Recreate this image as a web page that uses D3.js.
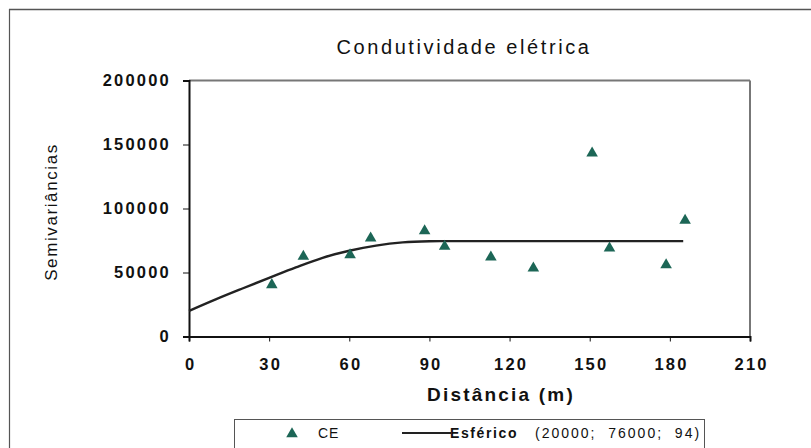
<!DOCTYPE html>
<html>
<head>
<meta charset="utf-8">
<script src="https://cdn.jsdelivr.net/npm/d3@7"></script>
<style>
  body { margin: 0; background: #fff; }
  svg { font-family: "Liberation Sans", Arial, sans-serif; }
</style>
</head>
<body>
<svg id="chart" width="811" height="448"></svg>
<script>
// Experimental semivariances (distance m, value)
const distances = [31, 42.8, 60.3, 68, 88.2, 95.7, 113, 128.9, 150.9, 157.4, 178.6, 185.7];
const semivariances = [40400, 62500, 63800, 76900, 82500, 70300, 62000, 53400, 143300, 69000, 56000, 90600];

// Spherical model line
const modelDist = [0, 10, 20, 30, 40, 50, 60, 70, 80, 90, 94, 185];
const modelVal = [20000, 29000, 37500, 45800, 54000, 61500, 67000, 71000, 73500, 74400, 74500, 74500];

const xTicks = [0, 30, 60, 90, 120, 150, 180, 210];
const yTicks = [0, 50000, 100000, 150000, 200000];

const svg = d3.select("#chart");

// Plot area
const plotLeft = 189, plotRight = 750, plotTop = 80.5, plotBottom = 336.5;

const x = d3.scaleLinear().domain([0, 210]).range([plotLeft, plotRight]);
const y = d3.scaleLinear().domain([0, 200000]).range([plotBottom, plotTop]);

// outer frame (partially visible in the scan)
svg.append("line").attr("x1", 9).attr("x2", 811).attr("y1", 9.5).attr("y2", 9.5)
    .attr("stroke", "#555").attr("stroke-width", 1.5);
svg.append("line").attr("x1", 9.5).attr("x2", 9.5).attr("y1", 9).attr("y2", 448)
    .attr("stroke", "#555").attr("stroke-width", 1.2);

// Title
svg.append("text")
    .attr("x", 464).attr("y", 54)
    .attr("text-anchor", "middle")
    .attr("font-size", 20)
    .attr("letter-spacing", 2.6)
    .attr("fill", "#111")
    .text("Condutividade elétrica");

// plot frame: top/right grey, left/bottom black
svg.append("line").attr("x1", plotLeft).attr("x2", plotRight).attr("y1", plotTop).attr("y2", plotTop)
    .attr("stroke", "#777").attr("stroke-width", 2);
svg.append("line").attr("x1", plotRight).attr("x2", plotRight).attr("y1", plotTop).attr("y2", plotBottom)
    .attr("stroke", "#777").attr("stroke-width", 2);

// Axes
const yAxis = d3.axisLeft(y).tickValues(yTicks).tickSize(6).tickPadding(12)
    .tickFormat(d3.format("d"));
const gy = svg.append("g").attr("transform", `translate(${plotLeft},0)`).call(yAxis);
gy.select(".domain").attr("stroke", "#111").attr("stroke-width", 2);
gy.selectAll(".tick line").attr("stroke", "#111");
gy.selectAll(".tick text").attr("font-size", 16.5).attr("font-weight", "bold")
    .attr("letter-spacing", 2.2)
    .attr("fill", "#111").attr("font-family", "Liberation Sans, Arial, sans-serif");

const xAxis = d3.axisBottom(x).tickValues(xTicks).tickSize(5).tickPadding(17);
const gx = svg.append("g").attr("transform", `translate(0,${plotBottom})`).call(xAxis);
gx.select(".domain").attr("stroke", "#111").attr("stroke-width", 2);
gx.selectAll(".tick line").attr("stroke", "#111");
gx.selectAll(".tick text").attr("font-size", 16.5).attr("font-weight", "bold")
    .attr("letter-spacing", 2.2).attr("dx", 1.1)
    .attr("fill", "#111").attr("font-family", "Liberation Sans, Arial, sans-serif");

// Axis titles
svg.append("text")
    .attr("x", 501).attr("y", 401)
    .attr("text-anchor", "middle")
    .attr("font-size", 19).attr("font-weight", "bold")
    .attr("letter-spacing", 2.2)
    .attr("fill", "#111")
    .text("Distância (m)");

svg.append("text")
    .attr("transform", "translate(57,212) rotate(-90)")
    .attr("text-anchor", "middle")
    .attr("font-size", 17)
    .attr("letter-spacing", 1.6)
    .attr("fill", "#111")
    .text("Semivariâncias");

// Model line
const line = d3.line().x(d => x(d[0])).y(d => y(d[1])).curve(d3.curveMonotoneX);
svg.append("path")
    .datum(modelDist.map((d, i) => [d, modelVal[i]]))
    .attr("d", line)
    .attr("fill", "none")
    .attr("stroke", "#222")
    .attr("stroke-width", 2.4);

// Points
const tri = d3.symbol().type(d3.symbolTriangle).size(58);
svg.selectAll("path.pt")
    .data(distances.map((d, i) => [d, semivariances[i]]))
    .join("path")
    .attr("class", "pt")
    .attr("d", tri)
    .attr("transform", d => `translate(${x(d[0])},${y(d[1])})`)
    .attr("fill", "#1c6656");

// Legend
const lg = svg.append("g");
lg.append("rect").attr("x", 234.5).attr("y", 419.5).attr("width", 470).attr("height", 40)
    .attr("fill", "#fff").attr("stroke", "#555").attr("stroke-width", 1);
lg.append("path").attr("d", tri).attr("transform", "translate(292,434)").attr("fill", "#1c6656");
lg.append("text").attr("x", 318).attr("y", 438).attr("font-size", 14).attr("letter-spacing", 1)
    .attr("fill", "#111").text("CE");
lg.append("line").attr("x1", 402).attr("x2", 451).attr("y1", 433).attr("y2", 433)
    .attr("stroke", "#222").attr("stroke-width", 2);
lg.append("text").attr("x", 450).attr("y", 438).attr("font-size", 14)
    .attr("font-weight", "bold").attr("letter-spacing", 1.6).attr("fill", "#111").text("Esférico");
lg.append("text").attr("x", 535).attr("y", 438).attr("font-size", 14)
    .attr("letter-spacing", 2).style("white-space", "pre")
    .attr("fill", "#111").text("(20000;  76000;  94)");
</script>
</body>
</html>
